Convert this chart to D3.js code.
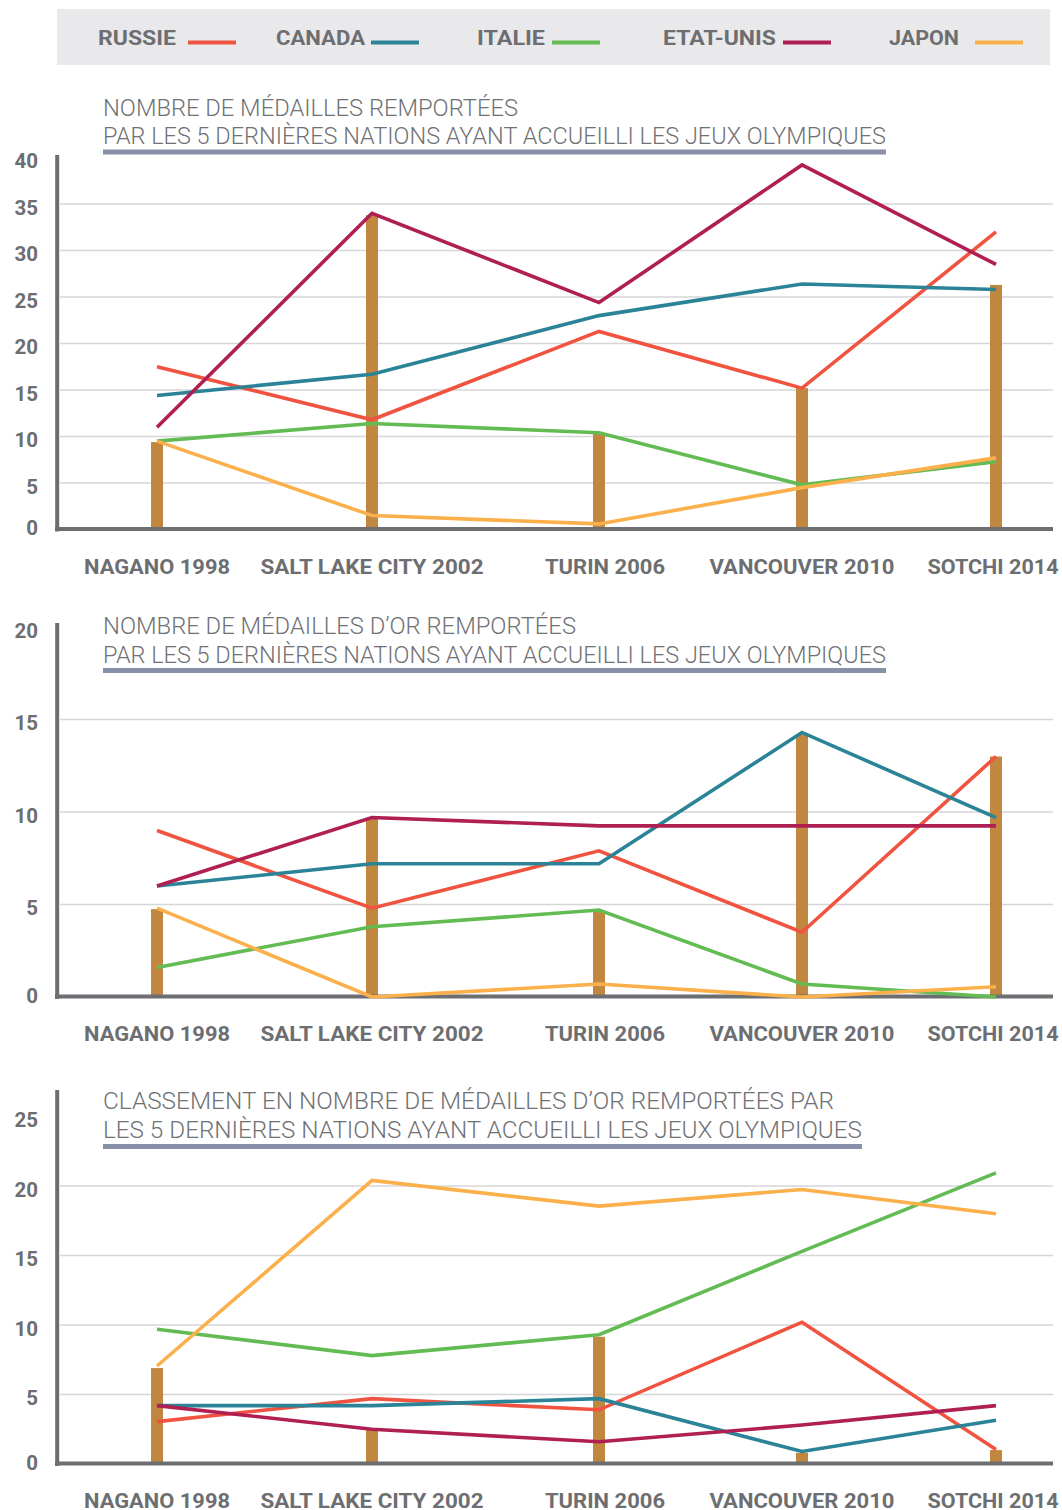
<!DOCTYPE html>
<html><head><meta charset="utf-8">
<script src="https://cdn.jsdelivr.net/npm/d3@7"></script>
<style>body{margin:0;background:#fff;} svg{display:block}</style>
</head><body><svg id="c" width="1062" height="1510"></svg>
<script>
// ---------- DATA ----------
const categories = ["NAGANO 1998","SALT LAKE CITY 2002","TURIN 2006","VANCOUVER 2010","SOTCHI 2014"];
const seriesNames = ["RUSSIE","CANADA","ITALIE","ETAT-UNIS","JAPON"];
const seriesColors = ["#f0533f","#2b8398","#63bc53","#b01f52","#fbb04b"];

// Chart 1 : nombre de médailles
const totalRussie    = [17.5, 11.8, 21.3, 15.2, 32.0];
const totalCanada    = [14.4, 16.7, 23.0, 26.4, 25.8];
const totalItalie    = [9.5, 11.4, 10.4, 4.8, 7.3];
const totalEtatsUnis = [11.0, 34.0, 24.4, 39.2, 28.5];
const totalJapon     = [9.5, 1.5, 0.6, 4.5, 7.7];
const totalHote      = [9.4, 33.8, 10.3, 15.2, 26.3];
const totalTicks     = [0, 5, 10, 15, 20, 25, 30, 35, 40];

// Chart 2 : médailles d'or
const orRussie    = [9.0, 4.8, 7.9, 3.5, 13.0];
const orCanada    = [6.0, 7.2, 7.2, 14.3, 9.7];
const orItalie    = [1.6, 3.8, 4.7, 0.7, 0.0];
const orEtatsUnis = [6.0, 9.7, 9.25, 9.25, 9.25];
const orJapon     = [4.8, 0.0, 0.7, 0.0, 0.55];
const orHote      = [4.75, 9.65, 4.65, 14.2, 13.0];
const orTicks     = [0, 5, 10, 15, 20];

// Chart 3 : classement
const rangRussie    = [3.05, 4.7, 3.9, 10.2, 1.05];
const rangCanada    = [4.2, 4.2, 4.7, 0.9, 3.15];
const rangItalie    = [9.7, 7.8, 9.3, 15.3, 20.95];
const rangEtatsUnis = [4.2, 2.5, 1.6, 2.8, 4.2];
const rangJapon     = [7.05, 20.4, 18.55, 19.75, 18.0];
const rangHote      = [6.9, 2.45, 9.15, 0.8, 1.0];
const rangTicks     = [0, 5, 10, 15, 20, 25];

const titles1 = ["NOMBRE DE MÉDAILLES REMPORTÉES", "PAR LES 5 DERNIÈRES NATIONS AYANT ACCUEILLI LES JEUX OLYMPIQUES"];
const titles2 = ["NOMBRE DE MÉDAILLES D’OR REMPORTÉES", "PAR LES 5 DERNIÈRES NATIONS AYANT ACCUEILLI LES JEUX OLYMPIQUES"];
const titles3 = ["CLASSEMENT EN NOMBRE DE MÉDAILLES D’OR REMPORTÉES PAR", "LES 5 DERNIÈRES NATIONS AYANT ACCUEILLI LES JEUX OLYMPIQUES"];

// ---------- LAYOUT ----------
const GREY = "#6d6e71";
const BAR = "#c1873f";
const FONT = "Roboto, 'Open Sans', sans-serif";
const svg = d3.select("#c");
const x = d3.scaleOrdinal(categories, [157, 372, 599, 802, 996]);
const labelShift = [0, 0, 6, 0, -3];

const charts = [
  { series: [totalRussie, totalCanada, totalItalie, totalEtatsUnis, totalJapon], host: totalHote, ticks: totalTicks, title: titles1,
    L: { max: 40, y0: 529.5, y1: 157.5, axisTop: 155, tb: [116, 144], tw: [415, 783], uy: 149.5, ux2: 886 } },
  { series: [orRussie, orCanada, orItalie, orEtatsUnis, orJapon], host: orHote, ticks: orTicks, title: titles2,
    L: { max: 20, y0: 997, y1: 627, axisTop: 623, tb: [634.3, 663.3], tw: [473, 783], uy: 668, ux2: 886 } },
  { series: [rangRussie, rangCanada, rangItalie, rangEtatsUnis, rangJapon], host: rangHote, ticks: rangTicks, title: titles3,
    L: { max: 25, y0: 1464, y1: 1116.5, axisTop: 1090, tb: [1109.3, 1138.3], tw: [731, 759], uy: 1144, ux2: 862 } }
];
const labelWidths = [146, 223, 120, 185, 131];

// ---------- LEGEND ----------
const legendTextX = [98, 276, 477, 663, 889];
const legendTextW = [78, 89, 68, 113, 70];
const legendLineX = [188, 371, 552, 783, 975];
svg.append("rect").attr("x", 57).attr("y", 9).attr("width", 993).attr("height", 56).attr("fill", "#e9e9eb");
const lg = svg.append("g").selectAll("g").data(seriesNames).join("g");
lg.append("text").attr("x", (d, i) => legendTextX[i]).attr("y", 44.5)
  .attr("textLength", (d, i) => legendTextW[i]).attr("lengthAdjust", "spacingAndGlyphs")
  .attr("font-family", FONT).attr("font-weight", 700).attr("font-size", 21).attr("fill", GREY).text(d => d);
lg.append("line").attr("x1", (d, i) => legendLineX[i]).attr("x2", (d, i) => legendLineX[i] + 48)
  .attr("y1", 42.5).attr("y2", 42.5).attr("stroke", (d, i) => seriesColors[i]).attr("stroke-width", 3.8);

// ---------- CHARTS ----------
charts.forEach(ch => {
  const L = ch.L;
  const y = d3.scaleLinear().domain([0, L.max]).range([L.y0, L.y1]);
  const g = svg.append("g");

  // title
  g.selectAll("text.title").data(ch.title).join("text").attr("class", "title")
    .attr("x", 103).attr("y", (d, i) => L.tb[i])
    .attr("textLength", (d, i) => L.tw[i]).attr("lengthAdjust", "spacingAndGlyphs")
    .attr("font-family", FONT).attr("font-weight", 300).attr("font-size", 24.5).attr("fill", "#707174")
    .text(d => d);
  g.append("rect").attr("x", 103).attr("y", L.uy).attr("width", L.ux2 - 103).attr("height", 5).attr("fill", "#8790a8");

  // gridlines
  g.selectAll("line.grid").data(ch.ticks.filter(t => t > 0 && t < L.max)).join("line").attr("class", "grid")
    .attr("x1", 60).attr("x2", 1053).attr("y1", d => y(d)).attr("y2", d => y(d))
    .attr("stroke", "#d6d6d8").attr("stroke-width", 1.6);

  // y tick labels
  const axg = g.append("g").attr("transform", "translate(38,0)")
    .call(d3.axisLeft(y).tickValues(ch.ticks).tickSize(0).tickPadding(0).tickFormat(d3.format("d")));
  axg.select(".domain").remove();
  axg.selectAll("text").attr("font-family", FONT).attr("font-weight", 700).attr("font-size", 20.5)
    .attr("fill", GREY).attr("dy", d => d === 0 ? "0.26em" : "0.5em");

  // bars (host nation)
  g.selectAll("rect.bar").data(ch.host).join("rect").attr("class", "bar")
    .attr("x", (d, i) => x(categories[i]) - 6).attr("width", 12)
    .attr("y", d => y(d)).attr("height", d => y(0) - y(d)).attr("fill", BAR);

  // axis lines
  g.append("line").attr("x1", 57.2).attr("x2", 57.2).attr("y1", L.axisTop).attr("y2", y(0) + 2)
    .attr("stroke", GREY).attr("stroke-width", 4);
  g.append("line").attr("x1", 55).attr("x2", 1053).attr("y1", y(0) - 0.5).attr("y2", y(0) - 0.5)
    .attr("stroke", GREY).attr("stroke-width", 4);

  // series lines
  const line = d3.line().x((d, i) => x(categories[i])).y(d => y(d));
  g.selectAll("path.series").data(ch.series).join("path").attr("class", "series")
    .attr("d", line).attr("fill", "none")
    .attr("stroke", (d, i) => seriesColors[i]).attr("stroke-width", 3.6);

  // x labels
  g.selectAll("text.xl").data(categories).join("text").attr("class", "xl")
    .attr("x", (d, i) => x(d) + labelShift[i]).attr("y", y(0) + 44).attr("text-anchor", "middle")
    .attr("textLength", (d, i) => labelWidths[i]).attr("lengthAdjust", "spacingAndGlyphs")
    .attr("font-family", FONT).attr("font-weight", 700).attr("font-size", 21).attr("fill", GREY)
    .text(d => d);
});
</script>
</body></html>
